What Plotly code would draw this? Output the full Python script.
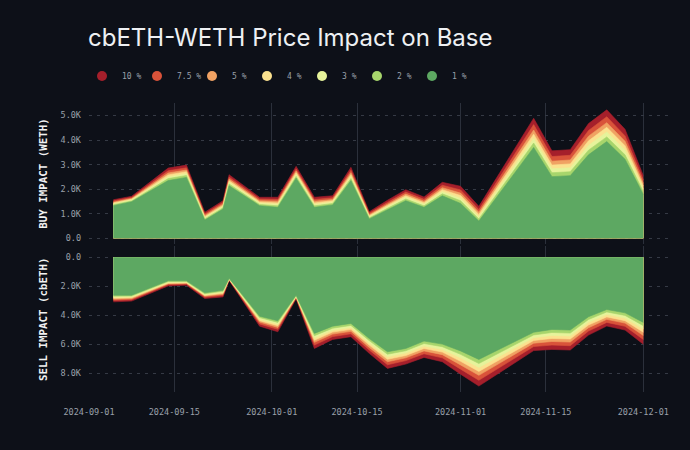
import plotly.graph_objects as go

dates = ["2024-09-05","2024-09-08","2024-09-14","2024-09-17","2024-09-20","2024-09-23","2024-09-24",
         "2024-09-29","2024-10-02","2024-10-05","2024-10-08","2024-10-11","2024-10-14","2024-10-17",
         "2024-10-20","2024-10-23","2024-10-26","2024-10-29","2024-11-01","2024-11-04","2024-11-13",
         "2024-11-16","2024-11-19","2024-11-22","2024-11-25","2024-11-28","2024-12-01"]

levels = ["10 %", "7.5 %", "5 %", "4 %", "3 %", "2 %", "1 %"]
colors = ["#a51f2b", "#d9533a", "#f0a263", "#fbe18f", "#e6f39b", "#a7d56c", "#5da862"]

# Buy impact (thousand WETH)
buy_1 = [1.33,1.49,2.35,2.48,0.74,1.19,2.14,1.33,1.26,2.45,1.26,1.36,2.35,0.79,1.16,1.53,1.26,1.73,1.42,0.70,3.70,2.51,2.55,3.40,3.94,3.22,1.78]
buy_2 = [1.37,1.52,2.43,2.56,0.79,1.24,2.21,1.38,1.32,2.52,1.32,1.42,2.43,0.83,1.22,1.60,1.32,1.81,1.53,0.79,3.88,2.67,2.71,3.59,4.13,3.40,1.90]
buy_3 = [1.40,1.56,2.50,2.63,0.84,1.29,2.28,1.43,1.38,2.59,1.38,1.47,2.51,0.88,1.28,1.67,1.39,1.90,1.63,0.88,4.06,2.83,2.87,3.78,4.33,3.59,2.01]
buy_4 = [1.44,1.59,2.58,2.71,0.88,1.34,2.34,1.48,1.44,2.67,1.44,1.53,2.59,0.92,1.34,1.73,1.45,1.98,1.74,0.97,4.24,2.98,3.03,3.97,4.52,3.77,2.13]
buy_5 = [1.47,1.62,2.66,2.78,0.93,1.39,2.41,1.53,1.51,2.74,1.51,1.58,2.67,0.96,1.39,1.80,1.51,2.06,1.84,1.06,4.41,3.14,3.19,4.16,4.71,3.95,2.24]
buy_7_5 = [1.52,1.66,2.75,2.87,0.99,1.46,2.49,1.60,1.58,2.82,1.58,1.65,2.77,1.02,1.46,1.88,1.59,2.16,1.97,1.17,4.63,3.33,3.38,4.39,4.95,4.17,2.38]
buy_10 = [1.57,1.71,2.86,2.98,1.06,1.53,2.59,1.67,1.67,2.93,1.67,1.73,2.89,1.08,1.55,1.98,1.68,2.28,2.12,1.30,4.89,3.56,3.61,4.67,5.23,4.44,2.55]

# Sell impact (thousand cbETH)
sell_1 = [2.62,2.62,1.63,1.63,2.46,2.28,1.45,4.07,4.39,2.62,5.26,4.76,4.57,5.61,6.53,6.30,5.79,6.00,6.47,7.06,5.18,4.99,5.03,4.11,3.61,3.84,4.50]
sell_2 = [2.69,2.68,1.68,1.68,2.52,2.35,1.47,4.17,4.50,2.66,5.42,4.90,4.71,5.76,6.70,6.46,5.96,6.18,6.71,7.34,5.37,5.20,5.24,4.30,3.78,4.02,4.73]
sell_3 = [2.76,2.74,1.74,1.72,2.58,2.42,1.50,4.28,4.62,2.70,5.57,5.04,4.85,5.92,6.88,6.62,6.13,6.37,6.95,7.61,5.56,5.40,5.44,4.49,3.95,4.20,4.95]
sell_4 = [2.83,2.80,1.79,1.77,2.64,2.49,1.52,4.38,4.73,2.73,5.73,5.17,4.98,6.07,7.05,6.79,6.30,6.55,7.19,7.89,5.75,5.61,5.65,4.68,4.12,4.38,5.18]
sell_5 = [2.90,2.87,1.84,1.81,2.69,2.56,1.54,4.48,4.85,2.77,5.88,5.31,5.12,6.23,7.22,6.95,6.47,6.73,7.44,8.16,5.94,5.82,5.86,4.87,4.29,4.55,5.41]
sell_7_5 = [2.98,2.94,1.90,1.86,2.76,2.64,1.57,4.61,4.98,2.82,6.07,5.48,5.29,6.41,7.43,7.14,6.67,6.95,7.73,8.50,6.17,6.07,6.11,5.10,4.50,4.77,5.68]
sell_10 = [3.08,3.03,1.98,1.93,2.85,2.74,1.60,4.76,5.15,2.87,6.30,5.68,5.49,6.64,7.68,7.38,6.92,7.22,8.08,8.90,6.45,6.37,6.41,5.38,4.75,5.03,6.01]

x_ticks = ["2024-09-01","2024-09-15","2024-10-01","2024-10-15","2024-11-01","2024-11-15","2024-12-01"]
buy_tickvals = [0, 1, 2, 3, 4, 5]
buy_ticktext = ["0.0", "1.0K", "2.0K", "3.0K", "4.0K", "5.0K"]
sell_tickvals = [0, 2, 4, 6, 8]
sell_ticktext = ["0.0", "2.0K", "4.0K", "6.0K", "8.0K"]

buy_series = [buy_10, buy_7_5, buy_5, buy_4, buy_3, buy_2, buy_1]
sell_series = [sell_10, sell_7_5, sell_5, sell_4, sell_3, sell_2, sell_1]

BG = "#0d1018"
MONO = "DejaVu Sans Mono, Liberation Mono, monospace"
TICK = "#9aa0aa"
GRID = "#353a45"
VGRID = "#2b303b"

fig = go.Figure()
for name, col, ys in zip(levels, colors, buy_series):
    fig.add_trace(go.Scatter(x=dates, y=ys, mode="lines", fill="tozeroy", fillcolor=col,
                             line=dict(width=0.6, color=col), showlegend=False, hoverinfo="skip",
                             xaxis="x", yaxis="y"))
for name, col, ys in zip(levels, colors, sell_series):
    fig.add_trace(go.Scatter(x=dates, y=ys, mode="lines", fill="tozeroy", fillcolor=col,
                             line=dict(width=0.6, color=col), showlegend=False, hoverinfo="skip",
                             xaxis="x2", yaxis="y2"))
for name, col in zip(levels, colors):
    fig.add_trace(go.Scatter(x=[None], y=[None], mode="markers", name=name,
                             marker=dict(size=10, color=col, symbol="circle"),
                             xaxis="x", yaxis="y"))

xcommon = dict(range=["2024-09-01", "2024-12-05 17:00"], tickvals=x_ticks, ticktext=x_ticks,
               showgrid=True, gridcolor=VGRID, gridwidth=1, zeroline=False, showline=False,
               ticks="", tickfont=dict(family=MONO, size=8.5, color=TICK))

top_dom = [(392 - 243) / 292, 1.0]
bot_dom = [0.0, (392 - 245) / 292]

fig.update_layout(
    width=690, height=450,
    paper_bgcolor=BG, plot_bgcolor=BG,
    margin=dict(l=89, r=18, t=100, b=58),
    title=dict(text="cbETH-WETH Price Impact on Base", x=88 / 690, xanchor="left", xref="container",
               y=1 - 38 / 450, yanchor="middle", yref="container",
               font=dict(family="Inter, sans-serif", size=24, color="#eef0f3")),
    legend=dict(orientation="h", xref="container", yref="container", x=82 / 690, y=1 - 76 / 450,
                xanchor="left", yanchor="middle", bgcolor="rgba(0,0,0,0)",
                entrywidth=10, entrywidthmode="pixels",
                font=dict(family=MONO, size=8, color=TICK), itemclick=False),
    xaxis=dict(domain=[0, 1], anchor="y", showticklabels=False, **xcommon),
    xaxis2=dict(domain=[0, 1], anchor="y2", matches="x", showticklabels=True, ticklabelstandoff=13, **xcommon),
    yaxis=dict(domain=top_dom, anchor="x", range=[-0.244, 5.53], tickvals=buy_tickvals, ticktext=buy_ticktext,
               showgrid=True, gridcolor=GRID, griddash="3px,5px", zeroline=False, showline=False, ticks="",
               ticklabelstandoff=7, tickfont=dict(family=MONO, size=8.5, color=TICK),
               title=dict(text="BUY IMPACT (WETH)", standoff=10,
                          font=dict(family=MONO, size=10.8, color="#f2f2f2", weight="bold"))),
    yaxis2=dict(domain=bot_dom, anchor="x2", range=[9.31, -0.76], tickvals=sell_tickvals, ticktext=sell_ticktext,
                showgrid=True, gridcolor=GRID, griddash="3px,5px", zeroline=False, showline=False, ticks="",
                ticklabelstandoff=7, tickfont=dict(family=MONO, size=8.5, color=TICK),
                title=dict(text="SELL IMPACT (cbETH)", standoff=10,
                           font=dict(family=MONO, size=10.8, color="#f2f2f2", weight="bold"))),
)

fig.write_html("out.html", config={"displayModeBar": False},
               post_script="document.body.style.margin='0';document.body.style.background='" + BG + "';")
